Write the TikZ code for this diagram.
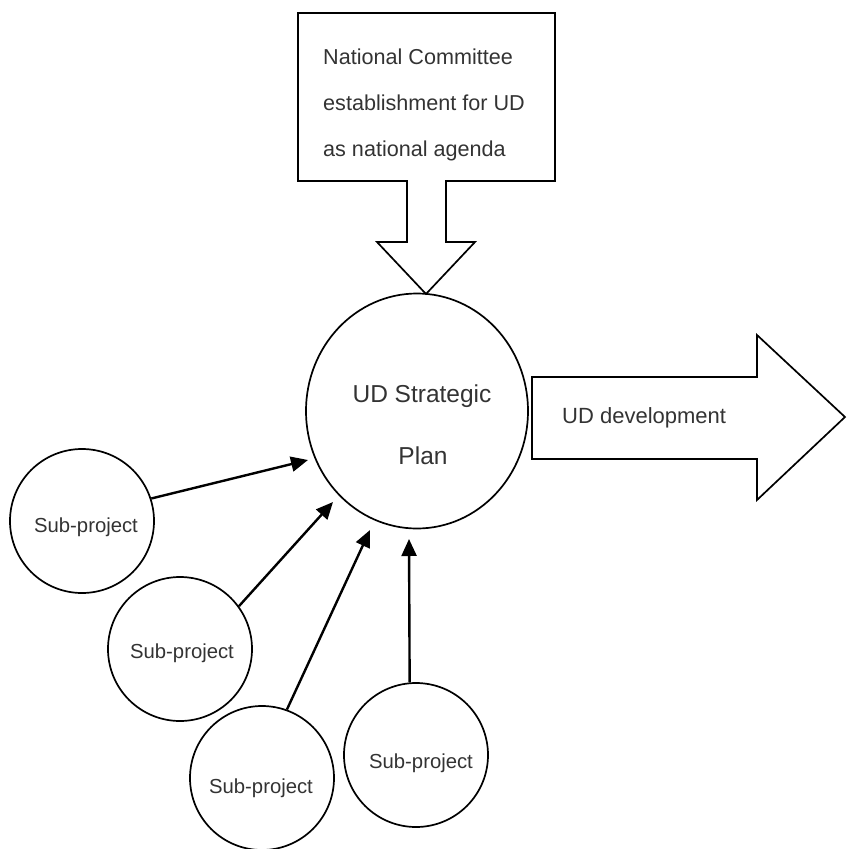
\documentclass[tikz,border=0pt]{standalone}
\usepackage{fontspec}
\setmainfont{Liberation Sans}
\usetikzlibrary{shapes.geometric,arrows.meta}
\begin{document}
\begin{tikzpicture}[x=1pt,y=-1pt,
  outl/.style={draw=black, line width=1.7pt, line join=miter},
  sub/.style={circle, draw=black, line width=1.7pt, minimum size=144pt, inner sep=0pt},
  txt/.style={inner sep=0pt, text=black!80},
  toptxt/.style={txt, anchor=base west, font=\fontsize{21.6}{26}\selectfont},
  subtxt/.style={txt, anchor=base, font=\fontsize{20.3}{24}\selectfont},
  feed/.style={line width=2.4pt, -{Triangle[length=17pt,width=15pt]}}]
\useasboundingbox (0,0) rectangle (847,849);

% top box with downward block arrow
\draw[outl] (298,13) -- (555,13) -- (555,181) -- (446,181) -- (446,242) -- (475,242)
  -- (426,294) -- (377,242) -- (407,242) -- (407,181) -- (298,181) -- cycle;
\node[toptxt] (nc1) at (323,64) {National Committee};
\node[toptxt] (nc2) at (323,110) {establishment for UD};
\node[toptxt] (nc3) at (323,156) {as national agenda};

% central plan
\node[ellipse, draw=black, line width=1.7pt, minimum width=222pt, minimum height=235pt, inner sep=0pt] (plan) at (417,411) {};
\node[txt, anchor=base, font=\fontsize{24.5}{29}\selectfont] (pl1) at (422,402) {UD Strategic};
\node[txt, anchor=base, font=\fontsize{24.5}{29}\selectfont] (pl2) at (423,464) {Plan};

% right block arrow
\draw[outl] (532,377) -- (757,377) -- (757,335) -- (845,417) -- (757,500) -- (757,459) -- (532,459) -- cycle;
\node[txt, anchor=base west, font=\fontsize{22}{26}\selectfont] (dev) at (562,423) {UD development};

% sub-projects
\node[sub] (c1) at (82,521) {};
\node[sub] (c2) at (180,649) {};
\node[sub] (c3) at (262,778) {};
\node[sub] (c4) at (416,755) {};
\node[subtxt] (s1) at (86,532) {Sub-project};
\node[subtxt] (s2) at (182,658) {Sub-project};
\node[subtxt] (s3) at (261,793) {Sub-project};
\node[subtxt] (s4) at (421,768) {Sub-project};

\coordinate (t1) at (308,460);
\coordinate (t2) at (333,502);
\coordinate (t3) at (370,530);
\coordinate (t4) at (409,539);
\draw[feed] (c1.18) -- (t1);
\draw[feed] (c2.36) -- (t2);
\draw[feed] (c3.70) -- (t3);
\draw[feed] (c4.95.5) -- (t4);
\end{tikzpicture}
\end{document}
